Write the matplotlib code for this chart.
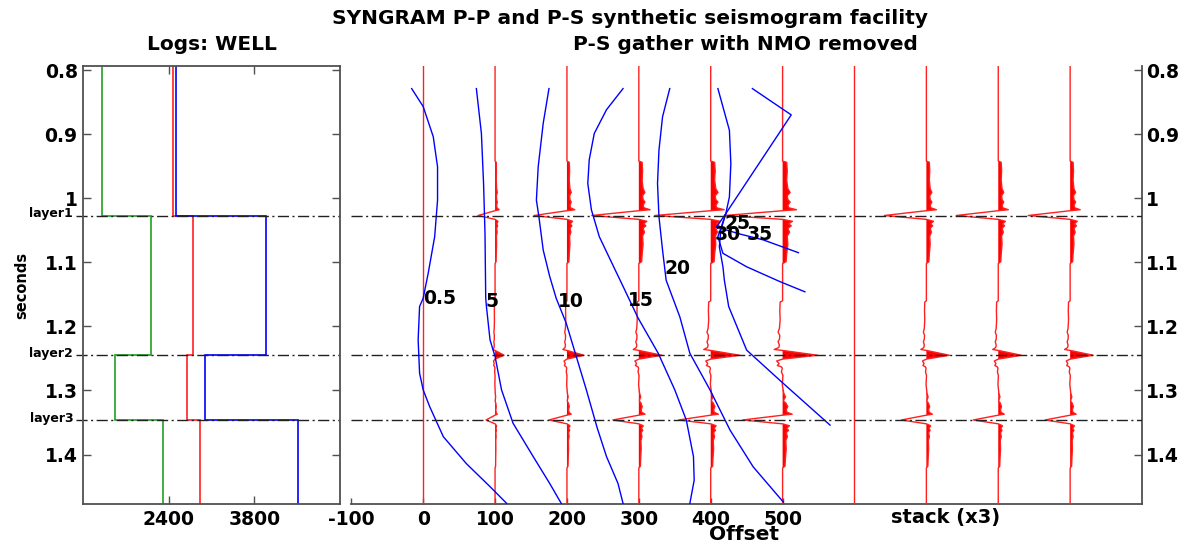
import numpy as np
import matplotlib.pyplot as plt

plt.rcParams['font.family'] = ['DejaVu Sans']
plt.rcParams['font.weight'] = 'bold'
plt.rcParams['axes.unicode_minus'] = False

# --- time window and layer picks (seconds) ---
t_top, t_bot = 0.7933, 1.4771
layer_names = ['layer1', 'layer2', 'layer3']
layer_times = [1.027, 1.245, 1.346]

# --- well logs, one value per interval between layers ---
log_green = [1311, 2103, 1519, 2309]
log_red = [2472, 2800, 2692, 2909]
log_blue = [2512, 3984, 2991, 4508]

# --- P-S gather: reflection amplitude per trace (in offset units) ---
gather_offsets = [0, 100, 200, 300, 400, 500]
amp_layer1 = [0, -23.7, -45.9, -65.4, -77.9, -80.7]
amp_layer2 = [0, 12.5, 23.7, 32.0, 40.3, 48.7]
amp_layer3 = [0, -12.5, -25.0, -36.2, -44.5, -55.6]
divider_offset = 600
stack_offsets = [700, 800, 900]
stack_amps = [-58.4, 32.0, -34.8]

# wavelet (lag in s, normalised amplitude)
wavelet_tau = [-0.085, -0.083, -0.070, -0.055, -0.042, -0.036, -0.031, -0.025,
               -0.021, -0.016, -0.012, -0.009, -0.0075, 0.0, 0.006, 0.009,
               0.013, 0.016, 0.020, 0.026, 0.032, 0.045, 0.060, 0.072, 0.075]
wavelet_amp = [0.0, -0.07, -0.08, -0.07, -0.09, -0.13, -0.08, -0.09,
               -0.13, -0.09, -0.11, -0.24, 0.0, 1.0, 0.0, -0.17,
               -0.10, -0.15, -0.09, -0.12, -0.08, -0.09, -0.07, -0.06, 0.0]

# --- incidence angle contours (offset, time) ---
angle_05 = [(-16, 0.829), (0, 0.857), (14, 0.904), (20, 0.951), (20, 1.003),
            (16, 1.060), (7, 1.117), (0, 1.156), (-5, 1.169), (-7, 1.221),
            (-5, 1.273), (0, 1.299), (9, 1.325), (28, 1.372), (60, 1.414),
            (93, 1.450), (116, 1.476)]
angle_5 = [(74, 0.829), (81, 0.899), (84, 0.977), (86, 1.055), (87, 1.156),
           (88, 1.169), (93, 1.221), (100, 1.247), (109, 1.299), (125, 1.351),
           (153, 1.403), (176, 1.445), (192, 1.476)]
angle_10 = [(175, 0.829), (167, 0.883), (160, 0.951), (157.5, 1.003), (161, 1.029),
            (167, 1.081), (176, 1.122), (185, 1.156), (199, 1.195), (213, 1.247),
            (227, 1.299), (242, 1.358), (255, 1.403), (271, 1.445), (278, 1.476)]
angle_15 = [(278, 0.829), (255, 0.862), (238, 0.899), (231, 0.940), (229, 0.977),
            (234, 1.018), (245, 1.060), (262, 1.100), (274, 1.128), (299, 1.187),
            (327, 1.242), (350, 1.299), (366, 1.346), (376, 1.403), (377, 1.440),
            (371, 1.476)]
angle_20 = [(343, 0.829), (333, 0.873), (328, 0.925), (326, 0.977), (328, 1.029),
            (333, 1.081), (338, 1.128), (357, 1.185), (371, 1.242), (399, 1.299),
            (427, 1.362), (459, 1.419), (501, 1.474)]
angle_25 = [(410, 0.829), (426, 0.894), (428, 0.946), (426, 0.998), (421, 1.024),
            (414, 1.050), (412, 1.076), (417, 1.107), (419, 1.128), (425, 1.169),
            (450, 1.237), (501, 1.289), (566, 1.354)]
angle_30 = [(458, 0.829), (512, 0.870), (421, 1.024), (408, 1.045), (441, 1.056),
            (473, 1.065), (522, 1.085)]
angle_35 = [(421, 1.024), (410, 1.060), (417, 1.086), (450, 1.107), (496, 1.130),
            (531, 1.146)]
angle_curves = [angle_05, angle_5, angle_10, angle_15, angle_20, angle_25, angle_30, angle_35]
angle_labels = ['0.5', '5', '10', '15', '20', '25', '30', '35']
angle_label_pos = [(23, 1.157), (96, 1.161), (206, 1.161), (303, 1.159),
                   (354, 1.109), (437, 1.039), (424, 1.057), (468, 1.057)]

time_ticks = [0.8, 0.9, 1.0, 1.1, 1.2, 1.3, 1.4]
time_tick_labels = ['0.8', '0.9', '1', '1.1', '1.2', '1.3', '1.4']
log_ticks = [2400, 3800]
offset_ticks = [-100, 0, 100, 200, 300, 400, 500]


def synth_trace(amps):
    # piecewise-linear sum of the wavelet at each layer time
    knots = [t_top, t_bot]
    for lt in layer_times:
        knots += [lt + tau for tau in wavelet_tau]
    knots = np.sort(np.array(knots))
    vals = np.zeros_like(knots)
    for lt, a in zip(layer_times, amps):
        vals += a * np.interp(knots - lt, wavelet_tau, wavelet_amp, left=0, right=0)
    return knots, vals


def draw_trace(ax, off, amps):
    t, v = synth_trace(amps)
    x = off + v
    ax.fill_betweenx(t, off, x, where=x > off, interpolate=True, color='red', lw=0, zorder=2)
    ax.plot(x, t, color='#ff2020', lw=1.0, zorder=3)


fig = plt.figure(figsize=(11.88, 5.44), dpi=100)
ax_log = fig.add_axes([0.0701, 0.0735, 0.2161, 0.8057])
ax_g = fig.add_axes([0.2957, 0.0735, 0.6656, 0.8057])

frame_col = '#505050'
dash = (0, (8, 2.5, 1.5, 2.5))
tick_fs = 13.5

# ---- logs ----
edges = [t_top] + layer_times + [t_bot]
ax_log.stairs(log_green, edges, orientation='horizontal', baseline=None, color='#22a022', lw=1.2)
ax_log.stairs(log_red, edges, orientation='horizontal', baseline=None, color='#ff2020', lw=1.2)
ax_log.stairs(log_blue, edges, orientation='horizontal', baseline=None, color='blue', lw=1.2)
for name, lt in zip(layer_names, layer_times):
    ax_log.plot([880, 5200], [lt, lt], color='#202020', lw=1.0, ls=dash, clip_on=False)
    ax_log.text(835, lt - 0.0025, name, ha='right', va='center', fontsize=9, clip_on=False)
ax_log.set_xlim(1000, 5200)
ax_log.set_ylim(t_bot, t_top)
ax_log.set_xticks(log_ticks)
ax_log.set_yticks(time_ticks)
ax_log.set_yticklabels(time_tick_labels)
ax_log.tick_params(direction='in', top=True, right=True, length=6, width=1,
                   labelsize=tick_fs, color=frame_col, pad=4)
for s in ax_log.spines.values():
    s.set_color(frame_col)
    s.set_linewidth(1.3)

# ---- gather + stack ----
for off, a1, a2, a3 in zip(gather_offsets, amp_layer1, amp_layer2, amp_layer3):
    draw_trace(ax_g, off, [a1, a2, a3])
ax_g.plot([divider_offset, divider_offset], [t_top, t_bot], color='#ff2020', lw=1.0, zorder=3)
for off in stack_offsets:
    draw_trace(ax_g, off, stack_amps)

for pts in angle_curves:
    xs, ts = zip(*pts)
    ax_g.plot(xs, ts, color='blue', lw=1.0, zorder=4)
for lab, (xo, to) in zip(angle_labels, angle_label_pos):
    ax_g.text(xo, to, lab, ha='center', va='center', fontsize=13.5, zorder=6)

for lt in layer_times:
    ax_g.plot([-100, 1000], [lt, lt], color='#202020', lw=1.0, ls=dash, zorder=5)

ax_g.set_xlim(-100, 1000)
ax_g.set_ylim(t_bot, t_top)
ax_g.set_xticks(offset_ticks)
ax_g.set_yticks(time_ticks)
ax_g.set_yticklabels(time_tick_labels)
ax_g.yaxis.tick_right()
ax_g.tick_params(axis='x', direction='in', length=4, width=1, labelsize=tick_fs, color=frame_col, pad=4)
ax_g.tick_params(axis='y', direction='in', length=6, width=1, labelsize=tick_fs, color=frame_col, pad=3)
ax_g.spines['top'].set_visible(False)
ax_g.spines['left'].set_visible(False)
for s in ['bottom', 'right']:
    ax_g.spines[s].set_color(frame_col)
    ax_g.spines[s].set_linewidth(1.3)

# ---- titles / labels ----
fig.text(630 / 1188, 1 - 18 / 544, 'SYNGRAM P-P and P-S synthetic seismogram facility',
         ha='center', va='center', fontsize=14.5)
fig.text(211.5 / 1188, 1 - 45 / 544, 'Logs: WELL', ha='center', va='center', fontsize=14.5)
fig.text(745 / 1188, 1 - 45 / 544, 'P-S gather with NMO removed', ha='center', va='center', fontsize=14.5)
fig.text(744 / 1188, 1 - 535 / 544, 'Offset', ha='center', va='center', fontsize=14.5)
fig.text(946 / 1188, 1 - 517 / 544, 'stack (x3)', ha='center', va='center', fontsize=14)
fig.text(22 / 1188, 1 - 285 / 544, 'seconds', ha='center', va='center', fontsize=10.5, rotation=90)

fig.savefig('out.png', dpi=100)
